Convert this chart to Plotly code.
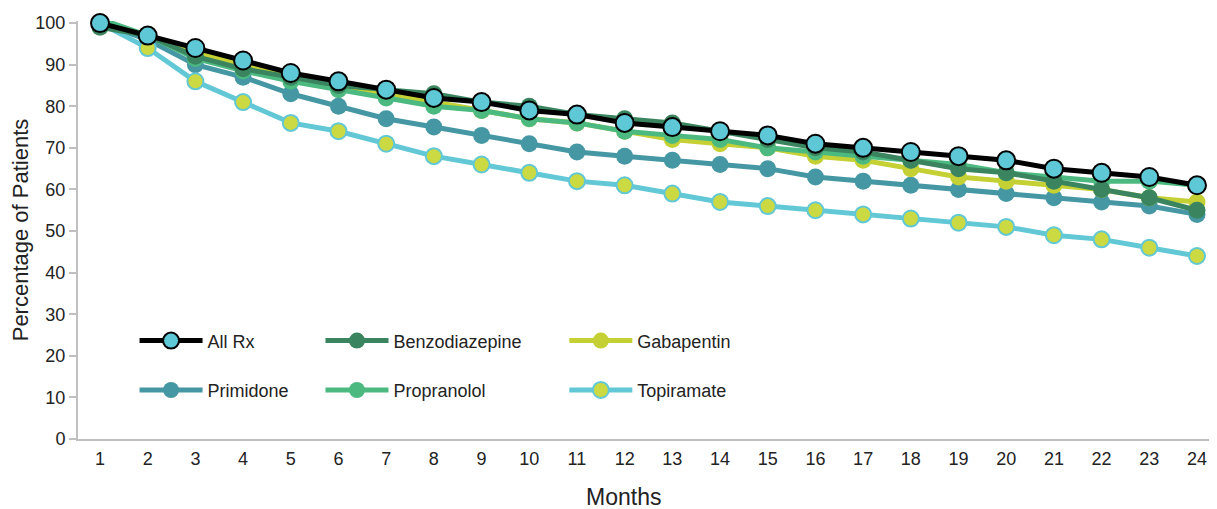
import plotly.graph_objects as go

months = list(range(1, 25))
all_rx = [100, 97, 94, 91, 88, 86, 84, 82, 81, 79, 78, 76, 75, 74, 73, 71, 70, 69, 68, 67, 65, 64, 63, 61]
benzodiazepine = [99, 97, 92, 89, 87, 85, 84, 83, 81, 80, 78, 77, 76, 74, 72, 70, 69, 67, 65, 64, 62, 60, 58, 55]
gabapentin = [100, 97, 93, 90, 87, 85, 83, 81, 79, 77, 76, 74, 72, 71, 70, 68, 67, 65, 63, 62, 61, 60, 58, 57]
primidone = [100, 96, 90, 87, 83, 80, 77, 75, 73, 71, 69, 68, 67, 66, 65, 63, 62, 61, 60, 59, 58, 57, 56, 54]
propranolol = [101, 97, 91.5, 88.5, 86, 84, 82, 80, 79, 77, 76, 74, 73, 72, 70, 69, 68, 67, 66, 64, 63, 62, 62, 61]
topiramate = [100, 94, 86, 81, 76, 74, 71, 68, 66, 64, 62, 61, 59, 57, 56, 55, 54, 53, 52, 51, 49, 48, 46, 44]

y_ticks = [0, 10, 20, 30, 40, 50, 60, 70, 80, 90, 100]

FONT = "Liberation Sans, Arial, sans-serif"

# (name, values, line colour, marker fill, marker outline, outline width, marker size, legend, group)
series = [
    ("Primidone", primidone, "#4598a3", "#4598a3", "#4598a3", 0, 17, "legend", "g2"),
    ("Topiramate", topiramate, "#62c8d6", "#cbd942", "#62c8d6", 2, 16, "legend3", "g2"),
    ("Gabapentin", gabapentin, "#c4d033", "#c4d033", "#c4d033", 0, 17, "legend3", "g1"),
    ("Propranolol", propranolol, "#4cba80", "#4cba80", "#4cba80", 0, 17, "legend2", "g2"),
    ("Benzodiazepine", benzodiazepine, "#3a855f", "#3a855f", "#3a855f", 0, 17, "legend2", "g1"),
    ("All Rx", all_rx, "#000000", "#5ec8d6", "#000000", 2, 18, "legend", "g1"),
]

fig = go.Figure()
for name, vals, lc, mf, mo, mw, ms, lg, grp in series:
    fig.add_trace(go.Scatter(
        x=months, y=vals, name=name, mode="lines+markers",
        line=dict(color=lc, width=5),
        marker=dict(color=mf, size=ms, line=dict(color=mo, width=mw)),
        legend=lg, legendgroup=grp + lg, legendrank=1 if grp == "g1" else 2,
        cliponaxis=False,
    ))

leg_common = dict(
    orientation="v", bgcolor="rgba(0,0,0,0)", font=dict(family=FONT, size=18, color="#222222"),
    itemwidth=63, tracegroupgap=23, yanchor="top", xanchor="left", traceorder="grouped",
)

fig.update_layout(
    width=1209, height=501,
    margin=dict(l=70, r=0, t=13, b=70, autoexpand=False),
    paper_bgcolor="white", plot_bgcolor="white",
    font=dict(family=FONT, size=18, color="#222222"),
    showlegend=True,
    legend=dict(x=0.05 * 1131 / 1139, y=0.279, **leg_common),
    legend2=dict(x=0.2144 * 1131 / 1139, y=0.279, **leg_common),
    legend3=dict(x=0.430 * 1131 / 1139, y=0.279, **leg_common),
    xaxis=dict(
        range=[0.5387, 24.4193], tickmode="array", tickvals=months,
        ticktext=[str(m) for m in months], showgrid=False, zeroline=False,
        showline=True, linecolor="#c0c0c0", linewidth=2, ticks="", automargin=False,
        ticklabelstandoff=2,
        tickfont=dict(family=FONT, size=18, color="#222222"),
    ),
    yaxis=dict(
        range=[0, 100.5], tickmode="array", tickvals=y_ticks, automargin=False,
        showgrid=False, zeroline=False, showline=True, linecolor="#c0c0c0", linewidth=2,
        ticks="outside", ticklen=7, tickcolor="#c0c0c0", tickwidth=2,
        tickfont=dict(family=FONT, size=18, color="#222222"),
        title=dict(text="Percentage of Patients", font=dict(family=FONT, size=22, color="#222222"), standoff=14),
    ),
    annotations=[dict(
        text="Months", xref="paper", yref="paper", x=0.4785, y=0,
        xanchor="center", yanchor="middle", yshift=-58, showarrow=False,
        font=dict(family=FONT, size=23, color="#222222"),
    )],
)

fig.write_html("out.html")
